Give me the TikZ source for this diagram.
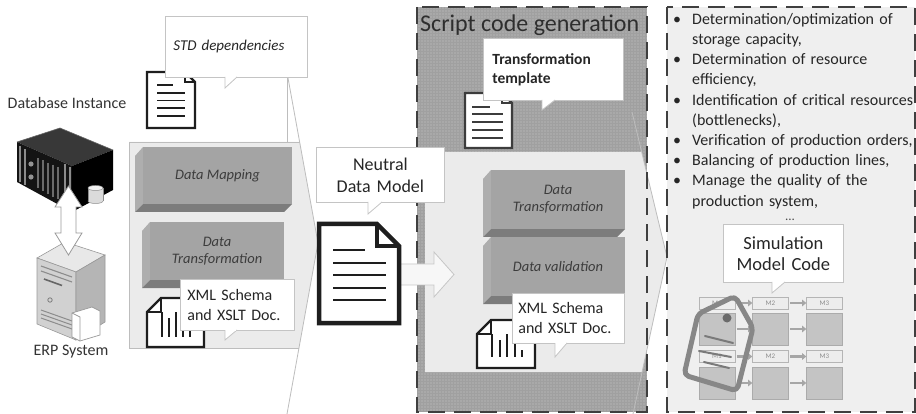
\documentclass[tikz,border=0pt]{standalone}
\usepackage{fontspec}
\setmainfont{Carlito}
\usetikzlibrary{calc,shadows,arrows.meta}

\definecolor{ink}{HTML}{262626}
\definecolor{callline}{HTML}{C4C4C4}
\definecolor{panelgray}{HTML}{A9A9A9}
\definecolor{panelgrid}{HTML}{A0A0A0}
\definecolor{lightfill}{HTML}{EBEBEB}
\definecolor{rightfill}{HTML}{EFEFEF}
\definecolor{chevline}{HTML}{BDBDBD}
\definecolor{dashcol}{HTML}{3F3F3F}
\definecolor{boxfront}{HTML}{A4A4A4}
\definecolor{boxleft}{HTML}{AEAEAE}
\definecolor{boxbottom}{HTML}{7C7C7C}
\definecolor{docink}{HTML}{1E1E1E}
\definecolor{docgray}{HTML}{3C3C3C}

% bevelled process box: name, x1, y1, x2, y2, text
\newcommand\bevelbox[6]{%
  \fill[boxleft] (#2,#3+9) -- (#2+8,#3) -- (#2+8,#5-8) -- (#2,#5) -- cycle;
  \fill[boxbottom] (#2,#5) -- (#2+8,#5-8) -- (#4,#5-8) -- (#4-8,#5) -- cycle;
  \fill[boxfront] (#2+8,#3) rectangle (#4,#5-8);
  \node[boxtext] (#1) at ({(#2+8+#4)/2},{(#3+#5-8)/2}) {#6};
}
% callout wedge: x left, y of box bottom, y of tip, x right
\newcommand\ctail[4]{%
  \filldraw[fill=white,draw=callline,line width=0.8pt] (#1,#2) -- (#1,#3) -- (#4,#2);
  \fill[white] (#1+0.5,#2-0.7) rectangle (#4-0.9,#2+0.5);
}
% page with folded top-right corner: x1, y1, x2, y2, fold, style
\newcommand\docpage[6]{%
  \filldraw[fill=white,#6] (#1,#2) -- (#3-#5,#2) -- (#3,#2+#5) -- (#3,#4) -- (#1,#4) -- cycle;
  \draw[#6] (#3-#5,#2) -- (#3-#5,#2+#5) -- (#3,#2+#5);
}
% page with cut top-left corner: x1, y1, x2, y2, cut, style
\newcommand\sheetpage[6]{%
  \filldraw[fill=white,#6] (#1,#2+#5) -- (#1+#5,#2) -- (#3,#2) -- (#3,#4) -- (#1,#4) -- cycle;
  \draw[#6] (#1,#2+#5) -- (#1+#5,#2+#5) -- (#1+#5,#2);
}
% bullet entry with hanging indent; \brk breaks a line inside an entry
\newcommand\brk{\hfil\break}
\newcommand\bitem[1]{\hangindent=19pt\hangafter=1\noindent\makebox[19pt][l]{\textbullet}#1\par}

\begin{document}
\begin{tikzpicture}[x=1pt,y=-1pt,
  callbox/.style={draw=callline, fill=white, line width=0.8pt, inner ysep=0pt,
    anchor=north west, text=ink,
    drop shadow={shadow xshift=1pt, shadow yshift=-1pt, opacity=0.15}},
  boxtext/.style={font=\itshape\fontsize{14.5}{17}\selectfont, text=ink!90, align=center, inner sep=0pt},
  dashborder/.style={draw=dashcol, line width=2.2pt, dash pattern=on 17pt off 9pt},
  mlab/.style={draw=black!29, fill=black!7, minimum width=36pt, minimum height=12pt,
    inner sep=0pt, line width=0.6pt, font=\fontsize{7}{8}\selectfont, text=black!45},
  mbox/.style={draw=black!33, fill=black!23, minimum width=36pt, minimum height=32pt,
    inner sep=0pt, line width=0.6pt},
  marrow/.style={draw=black!35, line width=2.6pt, -{Triangle[length=4pt,width=6.5pt]}, shorten <=1.5pt},
  blockarrow/.style={fill=black!3, draw=black!22, line width=0.8pt, line join=miter}
]
\useasboundingbox (0,0) rectangle (916,414);
\fill[white] (0,0) rectangle (916,414);

% ---------- panels ----------
\fill[rightfill] (667,7) rectangle (915,412);
\fill[panelgray] (417,7) rectangle (647,412);
\begin{scope}
  \clip (417,7) rectangle (647,412);
  \draw[panelgrid, line width=0.3pt, step=3pt] (417,7) grid (647,412);
\end{scope}

% left process chevron
\fill[lightfill] (129,142) -- (299.6,142) -- (318,243) -- (299,348) -- (129,348) -- cycle;
\draw[chevline, line width=0.8pt] (299.6,142) -- (129,142) -- (129,348) -- (299,348);
\draw[chevline, line width=0.8pt] (287,77) -- (287,142);
\draw[chevline, line width=0.8pt] (288,78) -- (318,243) -- (287,414);

% script generation chevron
\fill[lightfill] (425,152) -- (641.7,152) -- (667,257) -- (642,372) -- (425,372) -- cycle;
\draw[chevline, line width=0.8pt] (632,112) -- (667,257) -- (633,414);

\draw[dashborder] (417,7) rectangle (647,412);
\draw[dashborder] (667,7) rectangle (915,412);

% ---------- database instance and ERP system ----------
\node[font=\fontsize{16}{19}\selectfont, text=black!80] (dbi) at (67,103) {Database Instance};
\fill[black!78] (17,142) -- (60,128) -- (113,150) -- (72,166) -- cycle;
\fill[black!92] (17,142) -- (72,166) -- (72,212) -- (17,182) -- cycle;
\fill[black] (72,166) -- (113,150) -- (113,190) -- (72,212) -- cycle;
\draw[black!60, line width=0.6pt] (17,142) -- (60,128) -- (113,150);
\draw[black!45, line width=1.5pt] (20,146) -- (20,182) (25,149) -- (25,185);
\draw[black!45, line width=1.5pt] (65,164) -- (65,206) (70,167) -- (70,209);
\fill[black!42] (31,164) circle (2.6pt) (31,177) circle (2.6pt);
\foreach \vx in {38,43,48,53,58}
  \draw[black!58, line width=1.6pt] (\vx,{149+0.436*(\vx-17)}) -- (\vx,{177+0.545*(\vx-17)});
\fill[black!14] (88,188) rectangle (103,201);
\filldraw[fill=black!14, draw=black!45, line width=0.5pt] (95.5,201) ellipse (7.5pt and 2.5pt);
\fill[black!14] (88,188) rectangle (103,201);
\draw[black!45, line width=0.5pt] (88,188) -- (88,201) (103,188) -- (103,201);
\filldraw[fill=black!5, draw=black!45, line width=0.5pt] (95.5,188) ellipse (7.5pt and 2.5pt);

\filldraw[fill=black!9, draw=black!40, line width=0.6pt] (37,258) -- (65,242) -- (105,255) -- (76,272) -- cycle;
\filldraw[fill=black!18, draw=black!40, line width=0.6pt] (37,258) -- (76,272) -- (76,340) -- (37,324) -- cycle;
\filldraw[fill=black!29, draw=black!40, line width=0.6pt] (76,272) -- (105,255) -- (105,322) -- (76,340) -- cycle;
\draw[black!45, line width=1.1pt] (41,266) -- (72,277) (41,271) -- (72,282);
\draw[black!60, line width=1.6pt] (44,279) -- (62,285.5);
\draw[black!50, line width=0.8pt] (50,300) circle (2.2pt);
\draw[black!45, line width=1pt] (41,310) -- (72,321) (41,314) -- (72,325) (41,318) -- (72,329);
\filldraw[fill=white, draw=black!40, line width=0.7pt] (72,313) -- (92,307) -- (100,311) -- (100,335) -- (80,341) -- (72,337) -- cycle;
\draw[black!40, line width=0.7pt] (72,313) -- (80,317) -- (80,341);
\node[font=\fontsize{16}{19}\selectfont, text=black!80] (erp) at (71,352) {ERP System};

% link between the database instance and the ERP system
\filldraw[fill=white, draw=black!40, line width=0.8pt]
  (68.5,186) -- (82,207) -- (76,207) -- (76,233) -- (82,233) -- (68.5,255)
  -- (55,233) -- (61,233) -- (61,207) -- (55,207) -- cycle;

% ---------- data mapping stage ----------
\docpage{147}{72}{195}{128}{10}{draw=docink, line width=2.4pt}
\draw[docink, line width=1.6pt] (157,85) -- (173,85);
\foreach \ly in {93,100.5,108,116} \draw[docink, line width=1.6pt] (157,\ly) -- (185,\ly);
\node[callbox, minimum height=61pt, inner xsep=8pt, text width=126pt, align=left,
  font=\itshape\fontsize{15}{18}\selectfont] (std) at (165,16) {STD dependencies};
\ctail{225}{77}{88}{237}

\bevelbox{dmap}{135}{147}{292}{212}{Data Mapping}
\bevelbox{dtrA}{142}{222}{284}{288}{Data\\Transformation}

\sheetpage{147}{298}{204}{347}{14}{draw=docink, line width=2.4pt}
\draw[docink, line width=1.6pt] (162,312) -- (162,337) (169,318) -- (169,337) (176,312) -- (176,337)
  (183,322) -- (183,337) (190,330) -- (190,337);
\node[callbox, minimum height=51pt, inner xsep=7pt, text width=100pt, align=left,
  font=\fontsize{16}{20}\selectfont] (xmlA) at (180,279) {XML Schema\\and XSLT Doc.};
\ctail{225}{330}{340}{237}

% ---------- neutral data model ----------
\filldraw[blockarrow] (399,264) -- (434,264) -- (434,252) -- (454,274.5) -- (434,297) -- (434,285) -- (399,285) -- cycle;
\docpage{319}{224}{399}{323}{22}{draw=docink, line width=4.5pt, line join=miter}
\draw[docink, line width=2.2pt] (333,250) -- (365,250);
\foreach \ly in {263,275,288,300} \draw[docink, line width=2.2pt] (333,\ly) -- (386,\ly);
\node[callbox, minimum height=55pt, text width=128pt, inner xsep=0pt, align=center,
  font=\fontsize{18}{22}\selectfont] (ndm) at (316,147) {Neutral\\Data Model};
\ctail{368}{202}{214}{382}

% ---------- script code generation ----------
\node[anchor=base west, inner sep=0pt, font=\fontsize{24}{28}\selectfont, text=black!82] (title) at (420,32) {Script code generation};

\docpage{465}{93}{512}{148}{10}{draw=docgray, line width=2.4pt}
\draw[docgray, line width=1.6pt] (472,107) -- (490,107);
\foreach \ly in {114,122,130,138} \draw[docgray, line width=1.6pt] (472,\ly) -- (503,\ly);
\node[callbox, minimum height=62pt, inner xsep=9pt, text width=122pt, align=left,
  font=\bfseries\fontsize{15.5}{19}\selectfont] (tmpl) at (483,38) {Transformation\\template};
\ctail{542}{100}{110}{555}

\bevelbox{dtrB}{483}{170}{625}{237}{Data\\Transformation}
\bevelbox{dval}{483}{237}{625}{304}{Data validation}

\sheetpage{477}{320}{535}{368}{14}{draw=docink, line width=2.4pt}
\draw[docink, line width=1.6pt] (492,334) -- (492,357) (500,340) -- (500,357) (507,334) -- (507,357)
  (515,344) -- (515,357) (522,350) -- (522,357);
\node[callbox, minimum height=50pt, inner xsep=6pt, text width=100pt, align=left,
  font=\fontsize{16}{20}\selectfont] (xmlB) at (512,293) {XML Schema\\and XSLT Doc.};
\ctail{555}{343}{357}{567}

% ---------- simulation targets ----------
\node[anchor=north west, inner sep=0pt, text width=260pt, text=ink,
  font=\fontsize{16}{20.2}\selectfont] (uses) at (673,13) {\raggedright
  \bitem{Determination/optimization of\brk storage capacity,}%
  \bitem{Determination of resource\brk efficiency,}%
  \bitem{Identification of critical resources\brk (bottlenecks),}%
  \bitem{Verification of production orders,}%
  \bitem{Balancing of production lines,}%
  \bitem{Manage the quality of the\brk production system,}};
\node[font=\fontsize{13}{15}\selectfont, text=black!70, inner sep=0pt, anchor=south] (more) at (790,221) {...};

\node[callbox, minimum height=58pt, text width=120pt, inner xsep=0pt, align=center,
  font=\fontsize{18.5}{21}\selectfont] (sim) at (723,224) {Simulation\\Model Code};
\ctail{772}{282}{293}{785}

% model layout: three machines on two lines
\node[mlab] (l11) at (717,303) {M1};
\node[mlab] (l12) at (770.5,303) {M2};
\node[mlab] (l13) at (824.5,303) {M3};
\node[mbox] (b11) at (717,329) {};
\node[mbox] (b12) at (770.5,329) {};
\node[mbox] (b13) at (824.5,329) {};
\node[mlab] (l21) at (717,356.5) {M1};
\node[mlab] (l22) at (770.5,356.5) {M2};
\node[mlab] (l23) at (824.5,356.5) {M3};
\node[mbox] (b21) at (717,383) {};
\node[mbox] (b22) at (770.5,383) {};
\node[mbox] (b23) at (824.5,383) {};
\foreach \r in {l1,b1,l2,b2} {
  \draw[marrow] (\r1) -- (\r2);
  \draw[marrow] (\r2) -- (\r3);
}

% tag over the first machine column
\draw[black!47, line width=5pt, rounded corners=5pt, line join=round]
  (735,296) -- (753,328) -- (737,391) -- (684,375) -- (698,314) -- cycle;
\fill[black!58] (727,318) circle (4.5pt);
\draw[black!52, line width=2pt, line cap=round] (705,336) -- (733,343) (699,351) -- (731,357) (704,362) -- (729,368);
\end{tikzpicture}
\end{document}
